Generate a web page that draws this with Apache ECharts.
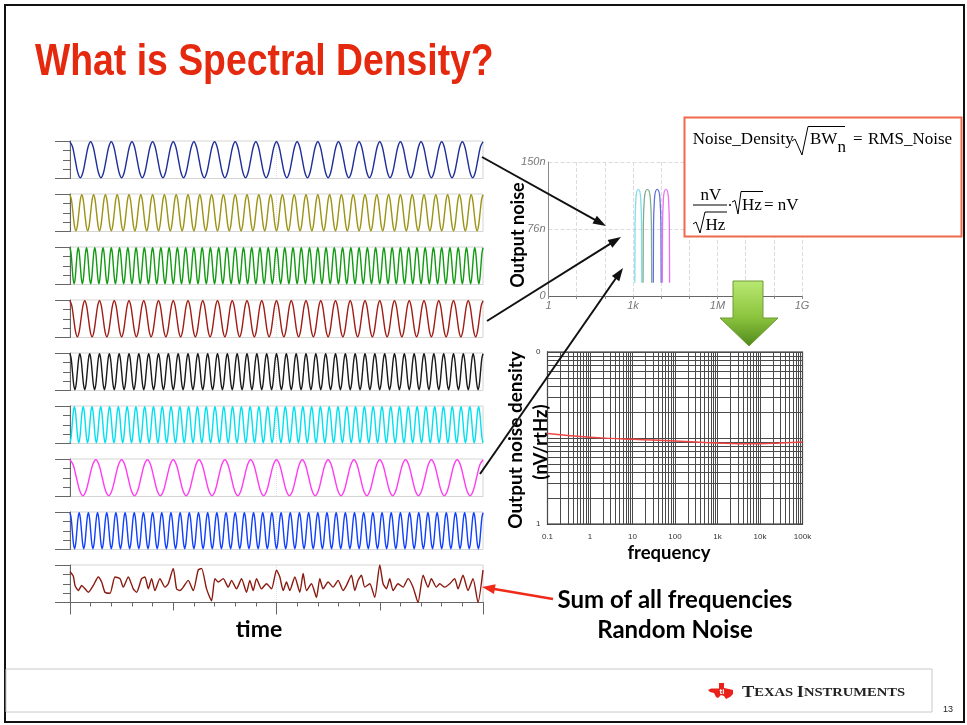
<!DOCTYPE html>
<html><head><meta charset="utf-8">
<script src="https://cdn.jsdelivr.net/npm/echarts@6/dist/echarts.min.js"></script>
<style>html,body{margin:0;padding:0;background:#fff}#c{width:967px;height:725px}</style>
</head><body><div id="c"></div>
<script>
// ---------------- data ----------------
// left column: eight single-frequency traces
const waveColors = ['#1f2f9a','#9c9214','#129a12','#a01c14','#1a1a1a','#00e0f0','#ff3cf0','#1040ff'];
const waveCycles = [20, 35, 50, 28, 42, 47, 16, 45];           // periods across the panel
const waveStart  = [1, 1, 1, 1, 1, -1, 1, 1];                   // 1 = starts at crest, -1 = trough
const cycleShape = [1, 0.71, 0, -0.71, -1, -0.71, 0, 0.71];     // one period of each trace
// sum trace (random noise), time in panel units, amplitude in panel units
const noiseT = [0,10,15,25,35,45,55,70,85,95,105,120,135,150,160,175,190,200,215,225,235,245,255,270,285,295,310,320,330,340,355,370,385,395,410,425,435,445,460,475,485,500,515,530,540,550,560,575,590,605,620,630,640,650,660,675,690,700,710,725,740,750,760,775,790,805,820,830,845,855,865,875,885,900,915,930,940,950,960,970,985,1000,1015,1030,1045,1060,1075,1085,1100,1110,1125,1140,1155,1165,1180,1195,1210,1225,1240];
const noiseV = [90,77,50,35,50,40,30,50,75,60,30,27,75,70,45,75,40,30,70,75,40,70,35,70,45,55,100,40,35,45,65,35,95,100,40,5,70,60,70,45,65,40,70,30,65,35,70,40,55,40,95,75,35,60,35,75,30,85,35,55,15,70,40,60,45,65,35,50,80,35,65,80,45,55,15,110,55,40,70,35,55,45,70,45,0,80,45,70,45,55,45,55,70,40,80,35,70,0,95];
const noiseColor = '#8a1a10';
// top-right chart: output noise of four narrow bands
const archColors = ['#7fdcea','#7fae8f','#5f6fe0','#ee6ef0'];
const archFreq = [
  [1159,1179,1262,1539,1879,2012,2046],
  [2275,2323,2529,3239,4150,4519,4613],
  [5248,5346,5781,7244,9078,9817,10000],
  [10965,11169,11995,14791,18239,19588,19953]
];
const archNoise = [
  [15,75,110,121,110,75,15],
  [15,75,110,121,110,75,15],
  [15,75,110,121,110,75,15],
  [15,75,110,121,110,75,15]
];
const topXTicks = [1, 1e3, 1e6, 1e9];
const topXLabels = ['1','1k','1M','1G'];
const topYTicks = [0, 76, 152];
const topYLabels = ['0','76n','150n'];
// bottom chart: output noise density
const densFreq = [0.1,0.3,1,3,10,30,100,300,1000,3000,10000,30000,100000];
const densVal  = [11.3,10.7,10.2,9.9,9.66,9.45,9.23,9.0,8.75,8.6,8.59,8.75,9.0];
const botXTicks = [0.1,1,10,100,1e3,1e4,1e5];
const botXLabels = ['0.1','1','10','100','1k','10k','100k'];
const botYTicks = [1, 100];
const botYLabels = ['1','0'];

// ---------------- build ----------------
const chart = echarts.init(document.getElementById('c'), null, {renderer:'canvas', width:967, height:725});
const grid=[], xAxis=[], yAxis=[], series=[];
const PANEL_LEFT=70, PANEL_W=413, PANEL_H=37.5, PANEL_TOP0=141, PANEL_STEP=53;
const AX='#666';

function tickLabel(ticks, labels){
  return v => { for (let k=0;k<ticks.length;k++){ if (Math.abs(v-ticks[k]) <= Math.abs(ticks[k])*1e-6+1e-9) return labels[k]; } return ''; };
}
function addPanelY(gi, min, max, interval){
  yAxis.push({gridIndex:gi, type:'value', min, max, interval, position:'left', offset:0,
    axisLine:{show:true, lineStyle:{color:AX, width:1}}, axisTick:{show:true, length:7, lineStyle:{color:AX}},
    axisLabel:{show:false}, splitLine:{show:false}});
  const yi = yAxis.length-1;
  yAxis.push({gridIndex:gi, type:'value', min, max, interval:max-min, position:'left', offset:0,
    axisLine:{show:false}, axisTick:{show:true, length:15, lineStyle:{color:AX}},
    axisLabel:{show:false}, splitLine:{show:false}});
  return yi;
}

waveCycles.forEach((n,i)=>{
  grid.push({left:PANEL_LEFT, top:PANEL_TOP0+PANEL_STEP*i, width:PANEL_W, height:PANEL_H, show:true, borderColor:'#d4d4d4', borderWidth:1});
  const vals=[];
  for (let c=0;c<n;c++) cycleShape.forEach(v=>vals.push(v*waveStart[i]*0.96));
  vals.push(cycleShape[0]*waveStart[i]*0.96);
  const half = Math.round((vals.length-1)/2);
  xAxis.push({gridIndex:i, type:'category', boundaryGap:false, data:vals.map((_,j)=>j),
    axisLine:{show:false}, axisTick:{show:false}, axisLabel:{show:false},
    splitLine:{show:true, interval:(idx)=>idx===half, lineStyle:{color:'#e0e0e0', type:'dotted'}}});
  const yi = addPanelY(i,-1,1,0.5);
  series.push({type:'line', xAxisIndex:xAxis.length-1, yAxisIndex:yi, data:vals, smooth:0.35,
    symbol:'none', lineStyle:{color:waveColors[i], width:1.4}, silent:true});
});

// noise panel
{
  const i = 8;
  grid.push({left:PANEL_LEFT, top:PANEL_TOP0+PANEL_STEP*i, width:PANEL_W, height:PANEL_H, show:true, borderColor:'#d4d4d4', borderWidth:1});
  xAxis.push({gridIndex:i, type:'value', min:0, max:1240, interval:62, position:'bottom', offset:0,
    axisLine:{show:true, lineStyle:{color:AX}}, axisTick:{show:true, length:4, lineStyle:{color:AX}},
    axisLabel:{show:false}, splitLine:{show:false}});
  const xi = xAxis.length-1;
  xAxis.push({gridIndex:i, type:'value', min:0, max:1240, interval:310, position:'bottom', offset:0,
    axisLine:{show:false}, axisTick:{show:true, length:8, lineStyle:{color:AX}}, axisLabel:{show:false}, splitLine:{show:false}});
  xAxis.push({gridIndex:i, type:'value', min:0, max:1240, interval:620, position:'bottom', offset:0,
    axisLine:{show:false}, axisTick:{show:true, length:12, lineStyle:{color:AX}}, axisLabel:{show:false},
    splitLine:{show:true, lineStyle:{color:'#e0e0e0', type:'dotted'}}});
  const yi = addPanelY(i,0,110,27.5);
  series.push({type:'line', xAxisIndex:xi, yAxisIndex:yi, data:noiseT.map((t,j)=>[t,noiseV[j]]), smooth:0.2,
    symbol:'none', lineStyle:{color:noiseColor, width:1.4}, silent:true, clip:false});
}

// top-right chart
grid.push({left:548.5, top:162, width:253.5, height:134});
const gTop = grid.length-1;
xAxis.push({gridIndex:gTop, type:'log', logBase:10, min:1, max:1e9, splitNumber:9,
  axisLine:{lineStyle:{color:'#666'}}, axisTick:{show:true, length:3, lineStyle:{color:'#888'}},
  axisLabel:{formatter:tickLabel(topXTicks, topXLabels), fontStyle:'italic', color:'#777', fontSize:11, margin:4, fontFamily:'Liberation Sans', showMinLabel:true, showMaxLabel:true},
  splitLine:{show:true, lineStyle:{color:'#dcdcdc', type:'dashed'}}});
const xTop = xAxis.length-1;
yAxis.push({gridIndex:gTop, type:'value', min:0, max:152, interval:76,
  axisLine:{show:true, lineStyle:{color:'#888'}}, axisTick:{show:false},
  axisLabel:{formatter:tickLabel(topYTicks, topYLabels), fontStyle:'italic', color:'#777', fontSize:11, margin:3, fontFamily:'Liberation Sans'},
  splitLine:{show:true, lineStyle:{color:'#dcdcdc', type:'dashed'}}});
const yTop = yAxis.length-1;
archFreq.forEach((fr,k)=>{
  series.push({type:'line', xAxisIndex:xTop, yAxisIndex:yTop, data:fr.map((f,j)=>[f,archNoise[k][j]]),
    smooth:0.5, symbol:'none', lineStyle:{color:archColors[k], width:1.3}, silent:true});
});

// bottom chart
grid.push({left:547.5, top:352, width:255, height:172, show:true, borderColor:'#222', borderWidth:1.2});
const gBot = grid.length-1;
xAxis.push({gridIndex:gBot, type:'log', logBase:10, min:0.1, max:1e5,
  axisLine:{show:true, lineStyle:{color:'#222'}}, axisTick:{show:false},
  axisLabel:{formatter:tickLabel(botXTicks, botXLabels), color:'#333', fontSize:8, margin:9, fontFamily:'Liberation Sans', showMinLabel:true, showMaxLabel:true},
  splitLine:{show:false}});
const xBot = xAxis.length-1;
yAxis.push({gridIndex:gBot, type:'log', logBase:10, min:1, max:100,
  axisLine:{show:true, lineStyle:{color:'#222'}}, axisTick:{show:false},
  axisLabel:{formatter:tickLabel(botYTicks, botYLabels), color:'#333', fontSize:8, margin:7, fontFamily:'Liberation Sans', showMinLabel:true, showMaxLabel:true},
  splitLine:{show:false}});
const yBot = yAxis.length-1;
const gx=[]; for (let e=-1;e<5;e++) for (let m=1;m<10;m++) gx.push(m*Math.pow(10,e)); gx.push(1e5);
const gy=[]; for (let e=0;e<2;e++) for (let m=1;m<10;m++) gy.push(m*Math.pow(10,e)); gy.push(100);
series.push({type:'line', xAxisIndex:xBot, yAxisIndex:yBot, data:densFreq.map((f,j)=>[f,densVal[j]]),
  symbol:'none', lineStyle:{opacity:0}, silent:true, z:1,
  markLine:{silent:true, symbol:['none','none'], label:{show:false}, animation:false,
    lineStyle:{color:'#4a4a4a', width:1, type:'solid'},
    data:[...gx.map(v=>({xAxis:v})), ...gy.map(v=>({yAxis:v}))]}});
series.push({type:'line', xAxisIndex:xBot, yAxisIndex:yBot, data:densFreq.map((f,j)=>[f,densVal[j]]),
  smooth:0.5, symbol:'none', lineStyle:{color:'#f04545', width:1.5}, silent:true, z:5});

// ---------------- annotations ----------------
const G=[];
const Z=100;
function txt(x,y,text,o){ o=o||{};
  G.push({type:'text', x, y, z:o.z||Z, rotation:o.rot||0, scaleX:o.sx||1, scaleY:o.sy||1,
    style:{text, fill:o.fill||'#000', fontSize:o.fs||14, fontFamily:o.ff||'Lato', fontWeight:o.fw||'normal',
      fontStyle:o.fst||'normal', align:o.al||'center', verticalAlign:o.va||'middle', rich:o.rich}}); }
function pl(points, stroke, w){ G.push({type:'polyline', z:Z+2, shape:{points}, style:{stroke, lineWidth:w||1, fill:null}}); }
function arrow(x1,y1,x2,y2,color,w,hl,hw){
  const a=Math.atan2(y2-y1,x2-x1), bx=x2-hl*Math.cos(a), by=y2-hl*Math.sin(a);
  const px=-Math.sin(a)*hw/2, py=Math.cos(a)*hw/2;
  G.push({type:'line', z:Z, shape:{x1,y1,x2:bx+Math.cos(a)*2,y2:by+Math.sin(a)*2}, style:{stroke:color, lineWidth:w}});
  G.push({type:'polygon', z:Z, shape:{points:[[x2,y2],[bx+px,by+py],[bx-px,by-py]]}, style:{fill:color}});
}

// frames
G.push({type:'rect', z:Z, shape:{x:5,y:5,width:959,height:717}, style:{fill:'none', stroke:'#111', lineWidth:2}});
G.push({type:'rect', z:Z, shape:{x:6,y:669,width:926,height:43}, style:{fill:'none', stroke:'#c8c8c8', lineWidth:1}});
// title
txt(35, 63, 'What is Spectral Density?', {fs:45, ff:'Liberation Sans', fw:'bold', fill:'#e5290f', al:'left', sx:0.83});
// axis titles and captions
txt(259, 630, 'time', {fs:23, fw:'bold'});
txt(518.5, 235, 'Output noise', {fs:18, fw:'bold', rot:Math.PI/2});
txt(515.5, 440, 'Output noise density', {fs:19, fw:'bold', rot:Math.PI/2});
txt(541.5, 442, '(nV/rtHz)', {fs:18.5, fw:'bold', rot:Math.PI/2});
txt(669, 553, 'frequency', {fs:18.5, fw:'bold'});
txt(675, 600, 'Sum of all frequencies', {fs:24, fw:'bold'});
txt(675, 630, 'Random Noise', {fs:24, fw:'bold'});
// arrows
arrow(482,157,606,226,'#111',2,13,9);
arrow(487,321,621,237,'#111',2,13,9);
arrow(480,474,623,268,'#111',2,13,9);
arrow(553,599,482,587,'#f02a1a',2.5,13,10);
// green block arrow
G.push({type:'polygon', z:Z, shape:{points:[[733,281],[763,281],[763,318],[778,318],[749,346],[720,318],[733,318]]},
  style:{stroke:'#6f9a35', lineWidth:1, fill:{type:'linear', x:0, y:0, x2:0, y2:1, colorStops:[{offset:0,color:'#b8e872'},{offset:0.55,color:'#8cc43e'},{offset:1,color:'#4f8a1c'}]}}});
// formula box
G.push({type:'rect', z:Z, shape:{x:684.5,y:117.5,width:277,height:119}, style:{fill:'#fff', stroke:'#f0694a', lineWidth:2}});
const SERIF='Liberation Serif';
txt(692.7, 139.5, 'Noise_Density', {fs:17, ff:SERIF, al:'left', z:Z+2});
pl([[792,141],[795,139],[802,155],[808,126.5],[845,126.5]], '#000', 1);
txt(810, 139.5, 'BW', {fs:17, ff:SERIF, al:'left', z:Z+2});
txt(837.5, 147.5, 'n', {fs:17, ff:SERIF, al:'left', z:Z+2});
txt(853, 139.5, '=', {fs:17, ff:SERIF, al:'left', z:Z+2});
txt(868, 139.5, 'RMS_Noise', {fs:17, ff:SERIF, al:'left', z:Z+2});
txt(711, 195.2, 'nV', {fs:17, ff:SERIF, z:Z+2});
pl([[693,205],[727,205]], '#000', 1);
pl([[693,224],[696,222],[700,233],[705,212],[727,212]], '#000', 1);
txt(705.5, 226, 'Hz', {fs:17, ff:SERIF, al:'left', z:Z+2});
G.push({type:'circle', z:Z+2, shape:{cx:730,cy:205,r:1}, style:{fill:'#000'}});
pl([[732,202],[735,200.5],[738,214],[741,191.5],[763,191.5]], '#000', 1);
txt(742, 206, 'Hz', {fs:17, ff:SERIF, al:'left', z:Z+2});
txt(764, 206, '= nV', {fs:17, ff:SERIF, al:'left', z:Z+2});
// TI logo
G.push({type:'polygon', z:Z, shape:{points:[[719,683],[724,683],[724,688],[729,689],[733,690],[733,694],[730,697],[726,699],[724,696],[721,695],[718,698],[716,697],[714,693],[710,692],[708,690],[711,688.5],[719,688.5]]}, style:{fill:'#e8221a'}});
txt(722, 692, 'ti', {fs:8, ff:'Liberation Sans', fw:'bold', fill:'#fff', z:Z+2});
txt(742, 692.5, '{b|T}{s|EXAS} {b|I}{s|NSTRUMENTS}', {fs:13.5, ff:SERIF, fw:'bold', al:'left', fill:'#222', sx:1.08,
  rich:{b:{fontSize:17, fontFamily:SERIF, fontWeight:'bold', fill:'#222'}, s:{fontSize:13.5, fontFamily:SERIF, fontWeight:'bold', fill:'#222'}}});
txt(948, 710, '13', {fs:9, ff:'Liberation Sans', fill:'#222'});

chart.setOption({animation:false, backgroundColor:'#fff', grid, xAxis, yAxis, series, graphic:G});
</script></body></html>
